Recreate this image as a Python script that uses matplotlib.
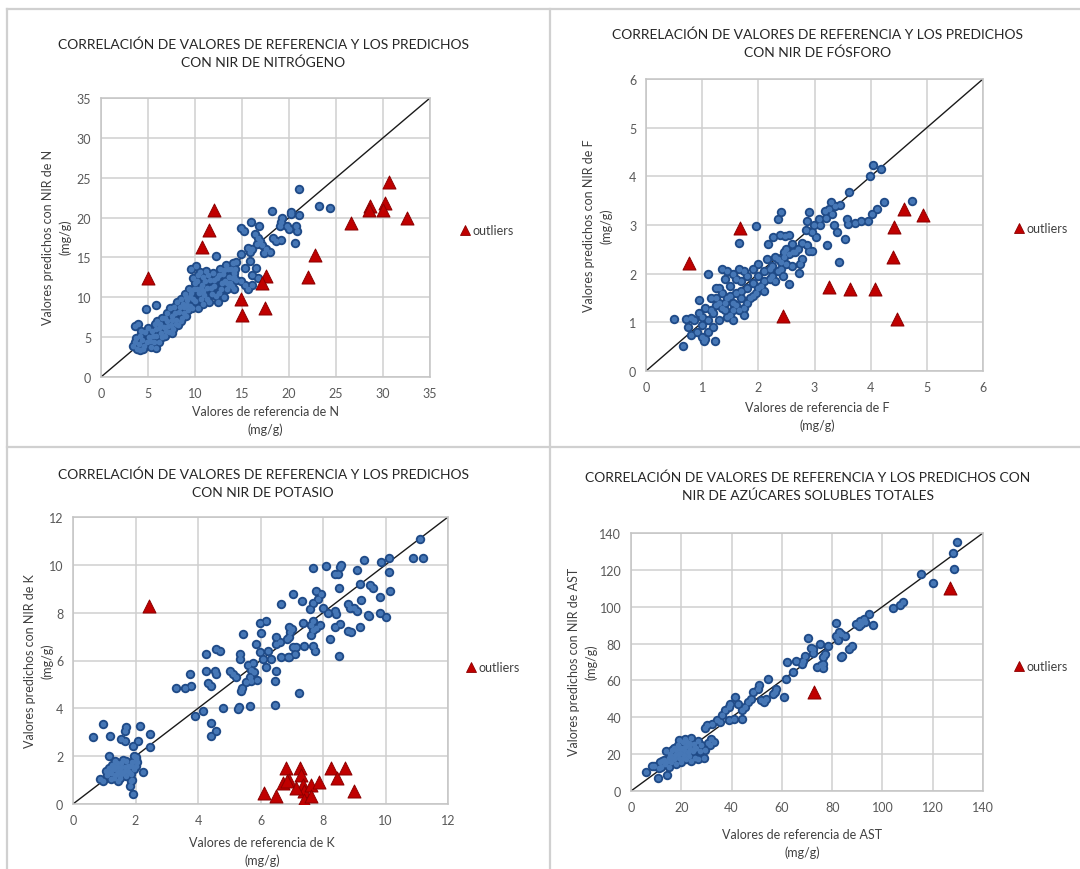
import matplotlib
matplotlib.use("Agg")
import matplotlib.pyplot as plt
from matplotlib.lines import Line2D

# ---------------- data ----------------
n_points = [
    (21.05, 23.6), (23.2, 21.5), (24.4, 21.2), (18.2, 20.8), (20.2, 20.7), (20.2, 20.4), (21.1, 20.3),
    (14.9, 18.7), (15.2, 18.3), (16.0, 19.4), (16.8, 19.0), (19.1, 19.5), (19.0, 18.9), (19.3, 20.0),
    (19.8, 18.9), (20.0, 18.6), (20.7, 19.0), (20.9, 18.3), (20.6, 16.8), (18.3, 17.4), (18.6, 17.0),
    (19.1, 17.2), (16.4, 18.0), (16.7, 17.5), (16.9, 17.0), (17.1, 16.5), (16.6, 16.7), (16.1, 16.0),
    (15.8, 15.7), (15.6, 16.2), (17.6, 16.0), (18.0, 15.7), (17.3, 15.5), (14.9, 15.4), (12.2, 15.2),
    (15.3, 13.7), (15.9, 14.5), (16.5, 13.7), (16.1, 12.8), (16.7, 12.4), (13.6, 11.5), (13.4, 11.8),
    (14.4, 12.2), (14.9, 12.0), (15.3, 11.6), (16.1, 11.6), (15.6, 11.0), (4.75, 8.5), (5.8, 9.0),
    (3.6, 6.4), (3.9, 6.7),
    (3.4, 3.9), (3.6, 4.4), (3.8, 3.5), (4.0, 4.2), (4.1, 5.2), (4.2, 3.4), (4.4, 4.7),
    (4.6, 3.9), (4.7, 5.6), (4.9, 4.4), (5.0, 6.2), (5.1, 5.0), (5.3, 3.8), (5.4, 5.8),
    (5.6, 4.4), (5.7, 6.6), (5.8, 3.7), (5.9, 5.2), (6.0, 7.0), (6.2, 4.4), (6.2, 6.1), (6.5, 5.0), (6.5, 7.4),
    (6.7, 6.3), (6.8, 5.2), (7.0, 8.0), (7.0, 7.0), (7.2, 5.7), (7.3, 8.6), (7.4, 6.5), (7.6, 7.6),
    (7.7, 6.0), (7.8, 8.8), (8.0, 7.2), (8.1, 9.4), (8.2, 6.5), (8.3, 8.2), (8.5, 9.8), (8.6, 7.4),
    (8.8, 8.8), (8.9, 10.4), (9.0, 7.6), (9.1, 9.6), (9.3, 8.4), (9.4, 11.0), (9.5, 10.0),
    (9.6, 13.6), (9.7, 8.6), (9.8, 12.4), (9.9, 11.0), (10.0, 9.5), (10.1, 13.9), (10.2, 12.0), (10.3, 8.6),
    (10.4, 10.5), (10.5, 13.2), (10.7, 11.5), (10.8, 9.2), (10.9, 12.6), (11.0, 10.3), (11.2, 13.3),
    (11.3, 11.2), (11.5, 9.4), (11.6, 12.2), (11.8, 10.4), (11.9, 13.0), (12.0, 11.4), (12.3, 12.4),
    (12.4, 9.4), (12.6, 10.6), (12.7, 13.6), (12.9, 11.8), (13.0, 12.9), (13.1, 10.0), (13.3, 14.0),
    (13.4, 11.0), (13.6, 12.5), (13.8, 13.6), (13.9, 11.4), (14.0, 14.3), (14.2, 12.6), (14.3, 13.6),
    (14.4, 14.4), (14.1, 11.0),
    (3.7, 4.9), (4.3, 5.8), (4.5, 3.5), (5.2, 4.5), (5.5, 5.2), (5.9, 6.0), (6.3, 6.6), (6.4, 5.5),
    (6.8, 7.4), (6.9, 5.8), (7.1, 6.4), (7.5, 7.1), (7.6, 5.5), (7.9, 8.0), (8.0, 6.6), (8.4, 8.8),
    (8.5, 7.0), (8.7, 9.2), (8.8, 8.0), (9.0, 10.0), (9.2, 9.0), (9.5, 8.9), (9.6, 10.6), (9.8, 9.8),
    (10.0, 11.8), (10.2, 11.0), (10.3, 12.8), (10.6, 11.2), (10.6, 9.8), (10.9, 10.8), (11.1, 12.0),
    (11.3, 9.8), (11.4, 12.8), (11.7, 11.2), (12.0, 12.2), (12.2, 10.2), (12.5, 12.8), (12.8, 11.0),
    (13.1, 13.4), (13.2, 12.0), (13.5, 13.5), (13.7, 11.8), (14.0, 12.4), (14.1, 13.0),
]
n_outliers = [
    (5.0, 12.4), (12.0, 20.9), (11.5, 18.4), (10.7, 16.3), (14.9, 9.8), (15.0, 7.8), (17.4, 8.7),
    (17.6, 12.7), (17.1, 11.8), (22.8, 15.25), (22.0, 12.5), (26.6, 19.3), (28.6, 21.4), (28.5, 21.0),
    (30.2, 21.8), (30.0, 21.0), (30.6, 24.4), (32.5, 19.9),
]

f_points = [
    (4.05, 4.23), (4.18, 4.15), (3.99, 4.0), (3.62, 3.68), (4.24, 3.47), (4.73, 3.5), (4.12, 3.33),
    (4.03, 3.23), (3.95, 3.09), (3.83, 3.09), (3.72, 3.05), (3.57, 3.12), (3.59, 3.02), (3.34, 2.99),
    (3.40, 2.85), (3.54, 2.71), (3.22, 2.58), (3.44, 2.25), (2.41, 3.26), (2.35, 3.13), (1.96, 2.97),
    (1.65, 2.62), (1.10, 1.99), (0.50, 1.07), (0.65, 0.52), (1.22, 0.62), (1.04, 0.62), (2.55, 1.79),
    (2.44, 1.96), (2.73, 2.01),
    (3.30, 3.47), (3.37, 3.40), (3.25, 3.33), (3.31, 3.23), (3.19, 3.29), (3.45, 3.42),
    (2.90, 3.26), (2.87, 3.09), (3.08, 3.12), (2.99, 2.99), (2.96, 2.85), (3.02, 2.75), (2.87, 2.58),
    (2.90, 2.47), (2.78, 2.64), (2.70, 2.51), (2.61, 2.44), (2.49, 2.51), (2.78, 2.30), (2.96, 2.47),
    (2.75, 2.2), (2.17, 2.61), (2.26, 2.75), (2.38, 2.79), (2.48, 2.77), (2.55, 2.8), (2.6, 2.15),
    (2.45, 2.35), (2.55, 2.4), (2.65, 2.45),
    (0.75, 0.9), (0.8, 0.75), (0.85, 1.05), (0.9, 0.8), (0.95, 1.2), (1.0, 0.95), (1.0, 0.7), (1.05, 1.3),
    (1.1, 1.05), (1.1, 0.8), (1.15, 1.5), (1.2, 1.2), (1.2, 0.9), (1.25, 1.7), (1.3, 1.4), (1.3, 1.05),
    (1.35, 2.1), (1.35, 1.6), (1.4, 1.25), (1.4, 1.9), (1.45, 1.5), (1.5, 1.75), (1.5, 1.15), (1.55, 2.0),
    (1.55, 1.4), (1.6, 1.6), (1.65, 2.1), (1.65, 1.25), (1.7, 1.85), (1.7, 1.5), (1.75, 2.05), (1.75, 1.3),
    (1.8, 1.7), (1.8, 1.95), (1.85, 1.5), (1.9, 2.1), (1.9, 1.8), (1.95, 1.6), (2.0, 1.95), (2.0, 2.2),
    (2.05, 1.75), (2.1, 2.05), (2.1, 1.65), (2.15, 2.3), (2.2, 1.9), (2.25, 2.15), (2.3, 1.85), (2.3, 2.35),
    (2.35, 2.05), (2.4, 2.25), (2.45, 2.45), (2.5, 2.2), (1.45, 1.1), (1.6, 1.35), (1.25, 1.35),
    (0.95, 1.45), (1.05, 0.65), (1.75, 1.15), (1.45, 2.05), (1.55, 1.05), (0.72, 1.07), (0.8, 1.08),
    (1.0, 1.1), (1.15, 1.25), (1.3, 1.7), (1.35, 1.3), (1.5, 1.55), (1.6, 1.9), (1.7, 1.65), (1.8, 1.4),
    (1.9, 1.55), (2.0, 1.7), (2.1, 1.85), (2.2, 2.1), (2.35, 2.3), (1.25, 1.5), (1.4, 1.4), (1.55, 1.25),
    (2.25, 1.95), (2.4, 2.1), (2.6, 2.6), (2.85, 2.9), (3.1, 3.0), (3.2, 3.15),
]
f_outliers = [
    (1.68, 2.93), (0.76, 2.21), (2.44, 1.12), (3.25, 1.72), (3.63, 1.68), (4.08, 1.68), (4.47, 1.07),
    (4.39, 2.34), (4.41, 2.95), (4.59, 3.33), (4.94, 3.21),
]

k_points = [
    (11.11, 11.07), (10.88, 10.3), (11.2, 10.3), (10.1, 10.3), (9.85, 10.1), (9.3, 10.2), (9.1, 9.78),
    (9.17, 9.19), (9.5, 9.16), (9.6, 9.05), (10.1, 9.72), (10.13, 8.91), (9.81, 8.66), (9.22, 8.55),
    (9.0, 8.2), (9.1, 8.07), (8.53, 9.89), (8.59, 10.0), (8.11, 9.96), (8.37, 9.61), (8.51, 9.02),
    (7.68, 9.86), (7.79, 8.91), (7.84, 8.56), (7.95, 8.77), (7.04, 8.8), (7.33, 8.49), (6.64, 8.36),
    (7.57, 8.15), (7.68, 8.4), (8.0, 8.2), (8.16, 8.0), (8.37, 8.09), (8.43, 7.96), (8.8, 8.36),
    (8.85, 8.2), (9.81, 8.0), (10.03, 7.8), (9.47, 7.87), (9.17, 7.41), (8.8, 7.24), (8.88, 7.2),
    (8.53, 7.52), (8.37, 7.41), (8.21, 6.89), (8.51, 6.2), (7.89, 7.48), (7.79, 7.34), (7.68, 7.28),
    (7.68, 7.64), (7.6, 7.5), (7.36, 7.58), (7.38, 6.62), (7.68, 6.62), (7.73, 6.41), (6.9, 7.0),
    (6.95, 7.2), (6.9, 7.4), (7.0, 7.3), (6.85, 6.9), (6.88, 6.13), (7.04, 6.56), (7.09, 6.27),
    (6.49, 7.0), (6.5, 6.7), (5.97, 7.58), (6.19, 7.65), (6.03, 7.17), (5.44, 7.1), (5.84, 6.69),
    (6.24, 6.41), (5.97, 6.34), (6.08, 6.06), (6.19, 5.71), (6.45, 5.15), (6.5, 5.57), (6.66, 6.13),
    (6.34, 6.06), (5.33, 6.27), (5.33, 6.06), (5.12, 5.43), (5.01, 5.57), (5.23, 5.29), (5.39, 4.73),
    (5.4, 4.85), (5.6, 5.8), (5.7, 5.6), (5.75, 5.9), (5.65, 5.3), (5.8, 5.5), (5.55, 5.1), (5.7, 5.15),
    (5.9, 5.2), (5.65, 4.1), (5.28, 3.96), (5.3, 4.05), (4.8, 4.03), (6.45, 4.13), (7.23, 4.65),
    (4.59, 6.47), (4.69, 6.41), (4.25, 6.29), (4.27, 5.57), (4.32, 5.08), (4.4, 4.94), (4.53, 5.57),
    (4.59, 5.43), (3.73, 5.43), (3.79, 4.94), (3.31, 4.87), (3.57, 4.87), (4.16, 3.9), (3.89, 3.69),
    (4.4, 3.37), (4.43, 2.86), (4.59, 3.06), (2.45, 2.92), (2.45, 2.37), (2.13, 3.27), (2.08, 2.65),
    (1.92, 2.44), (1.65, 3.06), (1.71, 3.2), (1.55, 2.72), (1.65, 2.65), (0.96, 3.34), (1.17, 2.86),
    (0.64, 2.81), (1.15, 1.99), (0.96, 0.97), (0.87, 1.04), (1.81, 0.77), (1.92, 0.42), (2.24, 1.32),
    (2.03, 1.95), (7.12, 6.55), (7.6, 7.06), (6.61, 6.79), (6.91, 6.14), (9.43, 7.9), (8.49, 9.6),
    (1.1, 1.2), (1.15, 1.5), (1.2, 1.3), (1.25, 1.65), (1.3, 1.1), (1.3, 1.45), (1.35, 1.8), (1.4, 1.25),
    (1.45, 1.55), (1.5, 1.1), (1.5, 1.4), (1.55, 1.7), (1.6, 1.3), (1.65, 1.55), (1.7, 1.15), (1.7, 1.8),
    (1.75, 1.4), (1.8, 1.6), (1.85, 1.25), (1.9, 1.75), (1.95, 1.45), (2.0, 1.9), (2.0, 1.6), (1.45, 0.95),
    (1.2, 1.05), (1.9, 1.0), (1.05, 1.4), (1.6, 1.85), (1.4, 1.7), (1.85, 0.95), (1.95, 2.0),
    (1.25, 1.45), (1.35, 1.55), (1.45, 1.35), (1.55, 1.55), (1.65, 1.4), (1.75, 1.6), (1.35, 1.2),
    (1.55, 1.25), (1.8, 1.35), (1.9, 1.6), (1.15, 1.35), (2.05, 1.75),
]
k_outliers = [
    (2.43, 8.28), (6.1, 0.48), (6.5, 0.32), (6.8, 1.5), (6.73, 0.87), (6.9, 1.0), (7.27, 1.52),
    (7.3, 1.22), (7.37, 0.8), (7.4, 0.53), (7.4, 0.15), (7.6, 0.8), (7.63, 0.32), (7.88, 0.91),
    (8.24, 1.5), (8.44, 1.08), (8.7, 1.5), (8.98, 0.53), (7.12, 0.66), (6.85, 0.95),
]

ast_points = [
    (129.5, 135.3), (128.2, 129.4), (128.4, 120.4), (115.5, 118.0), (120.0, 112.8), (108.1, 102.3),
    (106.8, 100.9), (104.2, 99.3), (94.5, 96.0), (92.5, 93.3), (91.6, 90.6), (90.6, 89.7), (93.0, 91.5),
    (91.0, 92.0), (89.5, 90.5), (96.4, 90.1), (81.5, 91.0), (82.8, 86.1), (81.5, 84.3), (85.2, 84.3),
    (83.5, 85.0), (82.5, 82.0), (88.0, 78.9), (86.7, 77.1), (84.1, 73.5), (83.5, 72.5), (78.3, 78.9),
    (77.0, 74.4), (76.4, 72.6), (75.0, 79.8), (72.5, 77.1), (70.5, 82.9), (71.5, 77.5), (72.2, 75.0),
    (69.2, 73.5), (68.6, 70.8), (74.0, 67.5), (75.5, 68.5), (76.5, 66.5), (76.4, 69.0), (67.9, 69.0),
    (65.7, 70.8), (64.3, 64.5), (61.8, 60.9), (62.1, 69.9), (60.8, 51.0), (54.3, 60.9), (57.6, 55.5),
    (56.3, 52.8), (53.7, 50.1), (53.0, 48.3), (51.7, 49.2), (51.1, 57.3), (48.5, 53.7), (47.9, 50.1),
    (46.6, 48.3), (45.3, 45.6), (44.0, 43.8), (42.7, 47.4), (41.4, 51.0), (39.4, 47.4), (38.8, 45.6),
    (37.5, 43.8), (36.2, 41.1), (34.3, 38.4), (44.2, 38.9), (38.8, 38.4), (35.5, 37.5), (32.3, 36.6),
    (30.3, 35.7), (29.5, 34.2), (33.0, 26.7), (31.7, 28.1), (29.1, 17.7), (14.2, 8.6), (10.7, 6.8),
    (5.8, 10.1), (8.3, 13.7), (57.3, 53.6), (50.5, 55.5), (41.1, 39.2),
    (9.0, 13.5), (11.0, 12.5), (11.5, 15.5), (12.0, 13.0), (13.0, 17.0), (13.5, 14.5), (14.0, 16.0),
    (15.0, 12.8), (15.0, 18.0), (15.5, 20.0), (16.0, 15.5), (16.5, 22.0), (17.0, 17.5), (17.5, 19.5),
    (18.0, 14.5), (18.0, 22.5), (18.5, 25.0), (19.0, 18.0), (19.5, 20.5), (20.0, 23.5), (20.0, 16.0),
    (20.5, 26.5), (21.0, 19.5), (21.0, 22.0), (21.5, 28.0), (22.0, 24.5), (22.0, 17.5), (22.5, 21.0),
    (23.0, 26.0), (23.0, 19.0), (23.5, 23.0), (24.0, 28.5), (24.5, 21.5), (25.0, 25.5), (25.5, 18.0),
    (26.0, 23.5), (26.5, 27.0), (27.5, 21.5), (28.0, 25.0), (29.5, 22.0), (30.5, 26.0), (31.5, 25.0),
    (26.5, 17.5), (24.0, 16.5), (14.0, 21.5), (12.5, 16.5), (17.0, 23.5), (19.0, 27.5),
    (18.5, 20.0), (21.5, 24.0), (23.5, 25.5), (19.5, 23.0), (22.0, 27.0), (25.0, 23.0), (20.5, 18.0),
    (16.0, 18.5),
]
ast_outliers = [(126.9, 109.9), (72.9, 53.7)]

titles = [
    "CORRELACIÓN DE VALORES DE REFERENCIA Y LOS PREDICHOS\nCON NIR DE NITRÓGENO",
    "CORRELACIÓN DE VALORES DE REFERENCIA Y LOS PREDICHOS\nCON NIR DE FÓSFORO",
    "CORRELACIÓN DE VALORES DE REFERENCIA Y LOS PREDICHOS\nCON NIR DE POTASIO",
    "CORRELACIÓN DE VALORES DE REFERENCIA Y LOS PREDICHOS CON\nNIR DE AZÚCARES SOLUBLES TOTALES",
]
xlabels = ["Valores de referencia de N\n(mg/g)", "Valores de referencia de F\n(mg/g)",
           "Valores de referencia de K\n(mg/g)", "Valores de referencia de AST\n(mg/g)"]
ylabels = ["Valores predichos con NIR de N\n(mg/g)", "Valores predichos con NIR de F\n(mg/g)",
           "Valores predichos con NIR de K\n(mg/g)", "Valores predichos con NIR de AST\n(mg/g)"]
limits = [35, 6, 12, 140]
steps = [5, 1, 2, 20]
legend_label = "outliers"

# ---------------- layout (pixel positions) ----------------
W, H = 1080, 870
plt.rcParams['font.family'] = ['Lato', 'DejaVu Sans']

fig = plt.figure(figsize=(W / 100, H / 100), dpi=100)
fig.patch.set_facecolor('white')

# axes boxes in pixels: left, top, right, bottom
boxes = [(101, 99, 430, 378), (646, 80, 983, 372), (73, 518, 448, 805), (631, 534, 983, 792)]
title_pos = [(263, 54), (818, 44), (263, 484), (808, 487)]
xlabel_pos = [(265, 421), (817, 417), (262, 852), (802, 844)]
ylabel_pos = [(57, 237), (598, 226), (39, 661), (583, 662)]
legend_pos = [(464, 231), (1018, 229), (470, 668), (1018, 667)]

point_sets = [n_points, f_points, k_points, ast_points]
outlier_sets = [n_outliers, f_outliers, k_outliers, ast_outliers]

BLUE_DARK = '#1F4A87'
BLUE_LIGHT = '#4677B6'
RED_FACE = '#C00000'
RED_EDGE = '#8B0000'

def fx(px):
    return px / W

def fy(py):
    return 1 - py / H

# panel frame lines
frame_color = '#D0D0D0'
for (x0, y0, x1, y1) in [(7, 10, 1080, 10), (7, 10, 7, 870), (550, 10, 550, 870), (7, 448, 1080, 448)]:
    fig.add_artist(Line2D([fx(x0), fx(x1)], [fy(y0), fy(y1)], color=frame_color, lw=1.6,
                          transform=fig.transFigure))

for i in range(4):
    l, t, r, b = boxes[i]
    ax = fig.add_axes([fx(l), fy(b), (r - l) / W, (b - t) / H])
    lim = limits[i]
    pts = point_sets[i]
    outs = outlier_sets[i]
    xs = [p[0] for p in pts]
    ys = [p[1] for p in pts]
    ax.plot([0, lim], [0, lim], color='#1a1a1a', lw=1.0, zorder=2)
    ax.scatter(xs, ys, s=46, c=BLUE_DARK, linewidths=0, zorder=3)
    ax.scatter(xs, ys, s=17, c=BLUE_LIGHT, linewidths=0, zorder=3.5)
    ax.scatter([p[0] for p in outs], [p[1] for p in outs], s=88, marker='^', c=RED_FACE,
               edgecolors=RED_EDGE, linewidths=0.7, zorder=4, label=legend_label)
    ax.set_xlim(0, lim)
    ax.set_ylim(0, lim)
    ticks = list(range(0, lim + 1, steps[i]))
    ax.set_xticks(ticks)
    ax.set_yticks(ticks)
    ax.tick_params(length=0, labelsize=9, labelcolor='#595959', pad=7)
    ax.grid(True, color='#CFCFCF', lw=1.1)
    ax.set_axisbelow(True)
    for sp in ax.spines.values():
        sp.set_color('#C4C4C4')
        sp.set_linewidth(1.1)

    tx, ty = title_pos[i]
    fig.text(fx(tx), fy(ty), titles[i], ha='center', va='center', fontsize=10,
             color='#262626', linespacing=1.55)
    lx, ly = xlabel_pos[i]
    fig.text(fx(lx), fy(ly), xlabels[i], ha='center', va='center', fontsize=9,
             color='#404040', linespacing=1.45)
    yx, yy = ylabel_pos[i]
    fig.text(fx(yx), fy(yy), ylabels[i], ha='center', va='center', fontsize=9,
             color='#404040', rotation=90, linespacing=1.45)

    gx, gy = legend_pos[i]
    handle = Line2D([], [], marker='^', linestyle='none', markersize=7, markerfacecolor=RED_FACE,
                    markeredgecolor=RED_EDGE, markeredgewidth=0.6)
    ax.legend([handle], [legend_label], loc='center left', bbox_to_anchor=(fx(gx - 5), fy(gy)),
              bbox_transform=fig.transFigure, frameon=False, borderpad=0, borderaxespad=0,
              handlelength=0.9, handletextpad=0.2, fontsize=9, labelcolor='#404040')

fig.savefig('out.png', dpi=100, facecolor='white')
